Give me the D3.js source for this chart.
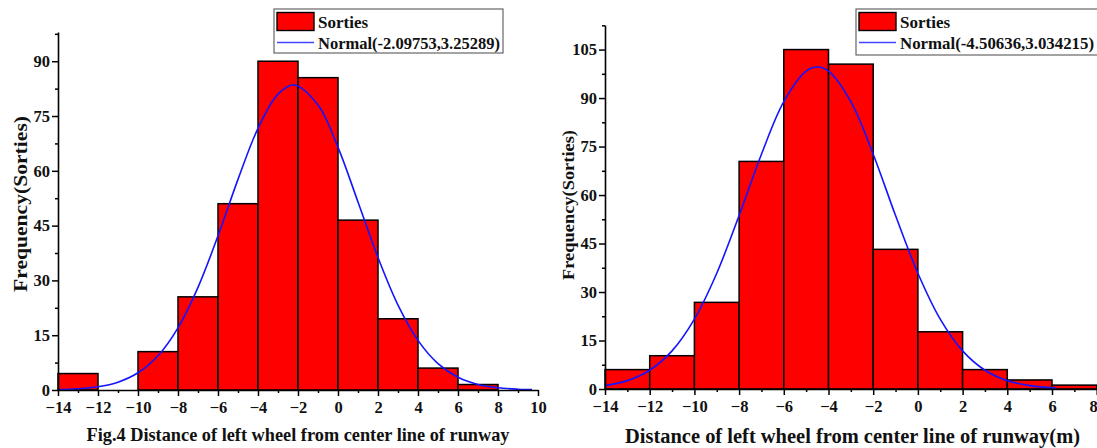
<!DOCTYPE html>
<html>
<head>
<meta charset="utf-8">
<script src="https://cdn.jsdelivr.net/npm/d3@7/dist/d3.min.js"></script>
<style>
  html, body { margin: 0; padding: 0; background: #fff; }
  svg { display: block; }
</style>
</head>
<body>
<svg id="chart" width="1097" height="448"></svg>
<script>
// ---------- DATA ----------
const binStarts = [-14, -12, -10, -8, -6, -4, -2, 0, 2, 4, 6];
const binWidth = 2;

const leftCounts  = [4.5, 0, 10.5, 25.5, 51, 90, 85.5, 46.5, 19.5, 6, 1.5];
const rightCounts = [6, 10.3, 26.8, 70.4, 105, 100.5, 43.2, 17.7, 6, 2.8, 1.2];

const leftCurveX = [-14, -13, -12, -11, -10, -9, -8, -7, -6, -5, -4, -3, -2.2, -1, 0, 1, 2, 3, 4, 5, 6, 7, 8, 9, 9.7];
const leftCurveY = [0.12, 0.34, 0.89, 2.15, 4.71, 9.39, 17.03, 28.11, 42.20, 57.65, 71.64, 81.01, 83.5, 78.01, 66.43, 51.47, 36.27, 23.26, 13.58, 7.21, 3.48, 1.53, 0.61, 0.22, 0.10];

const rightCurveX = [-14, -13, -12, -11, -10, -9, -8, -7, -6, -5, -4.5, -4, -3, -2, -1, 0, 1, 2, 3, 4, 5, 6, 6.2];
const rightCurveY = [1.04, 2.59, 5.81, 11.79, 21.61, 35.82, 53.65, 72.64, 88.90, 98.35, 99.6, 98.35, 88.90, 72.64, 53.65, 35.82, 21.61, 11.79, 5.81, 2.59, 1.04, 0.38, 0.31];

const leftXTicks  = [-14, -12, -10, -8, -6, -4, -2, 0, 2, 4, 6, 8, 10];
const rightXTicks = [-14, -12, -10, -8, -6, -4, -2, 0, 2, 4, 6, 8];
const leftYTicks  = [0, 15, 30, 45, 60, 75, 90];
const rightYTicks = [0, 15, 30, 45, 60, 75, 90, 105];

const seriesName = "Sorties";
const leftFitLabel  = "Normal(-2.09753,3.25289)";
const rightFitLabel = "Normal(-4.50636,3.034215)";
const yTitle = "Frequency(Sorties)";
const leftXTitle  = "Fig.4 Distance of left wheel from center line of runway";
const rightXTitle = "Distance of left wheel from center line of runway(m)";

// ---------- DRAW ----------
const FONT = "'Liberation Serif', 'Times New Roman', 'DejaVu Serif', serif";
const svg = d3.select("#chart")
  .attr("font-family", FONT).attr("font-weight", "bold");

function drawPanel(cfg) {
  const g = svg.append("g");
  const x = d3.scaleLinear().domain(cfg.xDomain).range(cfg.xRange);
  const y = d3.scaleLinear().domain(cfg.yDomain).range(cfg.yRange);

  // bars
  g.selectAll("rect.bar").data(cfg.counts.map((c, i) => ({x0: binStarts[i], c})))
    .enter().append("rect")
    .attr("x", d => x(d.x0))
    .attr("width", d => x(d.x0 + binWidth) - x(d.x0))
    .attr("y", d => y(d.c))
    .attr("height", d => y(0) - y(d.c))
    .attr("fill", "#ff0000")
    .attr("stroke", "#000")
    .attr("stroke-width", 1.5)
    .attr("display", d => d.c > 0 ? null : "none");

  // normal curve
  const pts = cfg.curveX.map((v, i) => [v, cfg.curveY[i]]);
  g.append("path")
    .attr("d", d3.line().x(d => x(d[0])).y(d => y(d[1])).curve(d3.curveCatmullRom.alpha(0.5))(pts))
    .attr("fill", "none")
    .attr("stroke", "#1414ff")
    .attr("stroke-width", 1.6);

  // minor ticks
  const xMinor = d3.range(cfg.xDomain[0], cfg.xDomain[1] + 0.001, 1).filter(v => !cfg.xTicks.includes(v));
  const yMinor = d3.range(7.5, cfg.yDomain[1], 15);
  g.append("g").attr("transform", `translate(0,${y(0)})`)
    .call(d3.axisBottom(x).tickValues(xMinor).tickSize(3).tickSizeOuter(0).tickFormat(""))
    .call(a => a.select(".domain").remove());
  g.append("g").attr("transform", `translate(${x(cfg.xDomain[0])},0)`)
    .call(d3.axisLeft(y).tickValues(yMinor).tickSize(3).tickSizeOuter(0).tickFormat(""))
    .call(a => a.select(".domain").remove());

  // major axes
  const xa = g.append("g").attr("transform", `translate(0,${y(0)})`)
    .call(d3.axisBottom(x).tickValues(cfg.xTicks).tickSize(6).tickSizeOuter(0).tickPadding(5).tickFormat(d3.format("d")));
  const ya = g.append("g").attr("transform", `translate(${x(cfg.xDomain[0])},0)`)
    .call(d3.axisLeft(y).tickValues(cfg.yTicks).tickSize(6).tickSizeOuter(0).tickPadding(2).tickFormat(d3.format("d")));
  g.selectAll("g").attr("font-family", FONT).attr("font-size", 16);
  [xa, ya].forEach(a => {
    a.selectAll("text").attr("font-family", FONT).attr("font-weight", "bold")
      .attr("font-size", 16.5).attr("fill", "#111");
    a.select(".domain").attr("stroke", "#000").attr("stroke-width", 1.6);
  });
  g.selectAll(".tick line").attr("stroke", "#000").attr("stroke-width", 1.5);
  xa.selectAll("text").attr("dy", "0.71em");
  // keep the last right-edge label inside the picture
  if (cfg.xRange[1] > 1090) {
    xa.selectAll(".tick").filter(d => d === cfg.xDomain[1]).select("text").attr("text-anchor", "end").attr("x", 0.5);
  }

  // axis titles
  g.append("text")
    .attr("x", cfg.xTitlePos[0]).attr("y", cfg.xTitlePos[1])
    .attr("text-anchor", "middle")
    .attr("textLength", cfg.xTitleLen).attr("lengthAdjust", "spacingAndGlyphs")
    .attr("font-size", cfg.xTitleSize).attr("fill", "#111")
    .text(cfg.xTitle);
  g.append("text")
    .attr("transform", `translate(${cfg.yTitlePos[0]},${cfg.yTitlePos[1]}) rotate(-90)`)
    .attr("text-anchor", "middle")
    .attr("dy", "0.35em")
    .attr("textLength", cfg.yTitleLen).attr("lengthAdjust", "spacingAndGlyphs")
    .attr("font-size", cfg.yTitleSize).attr("fill", "#111")
    .text(yTitle);

  // legend
  const L = cfg.legend;
  g.append("rect").attr("x", L.x).attr("y", L.y).attr("width", L.w).attr("height", L.h)
    .attr("fill", "#fff").attr("stroke", "#666").attr("stroke-width", 1.2);
  g.append("rect").attr("x", L.x + 3).attr("y", L.y + 3.5).attr("width", 37).attr("height", 18)
    .attr("fill", "#ff0000").attr("stroke", "#000").attr("stroke-width", 1.4);
  g.append("line").attr("x1", L.x + 3).attr("x2", L.x + 40).attr("y1", L.y + 33.5).attr("y2", L.y + 33.5)
    .attr("stroke", "#4444ff").attr("stroke-width", 1.6);
  g.append("text").attr("x", L.x + 44).attr("y", L.y + 18.5).attr("font-size", 17).attr("fill", "#111").text(seriesName);
  g.append("text").attr("x", L.x + 44).attr("y", L.y + 39.5).attr("font-size", 17).attr("fill", "#111")
    .attr("textLength", L.fitLen).attr("lengthAdjust", "spacingAndGlyphs").text(cfg.fitLabel);
}

drawPanel({
  counts: leftCounts, curveX: leftCurveX, curveY: leftCurveY,
  xDomain: [-14, 10], xRange: [58, 538],
  yDomain: [0, 98], yRange: [390, 32],
  xTicks: leftXTicks, yTicks: leftYTicks,
  xTitle: leftXTitle, xTitlePos: [298, 441], xTitleLen: 423, xTitleSize: 19,
  yTitlePos: [20, 204], yTitleLen: 176, yTitleSize: 19.5,
  fitLabel: leftFitLabel,
  legend: {x: 274, y: 9, w: 229, h: 44, fitLen: 182}
});

drawPanel({
  counts: rightCounts, curveX: rightCurveX, curveY: rightCurveY,
  xDomain: [-14, 8], xRange: [605, 1096.7],
  yDomain: [0, 112.6], yRange: [389, 25],
  xTicks: rightXTicks, yTicks: rightYTicks,
  xTitle: rightXTitle, xTitlePos: [852.5, 443], xTitleLen: 455, xTitleSize: 20.5,
  yTitlePos: [568, 205], yTitleLen: 150, yTitleSize: 17.5,
  fitLabel: rightFitLabel,
  legend: {x: 856, y: 9, w: 245, h: 46, fitLen: 194}
});
</script>
</body>
</html>
